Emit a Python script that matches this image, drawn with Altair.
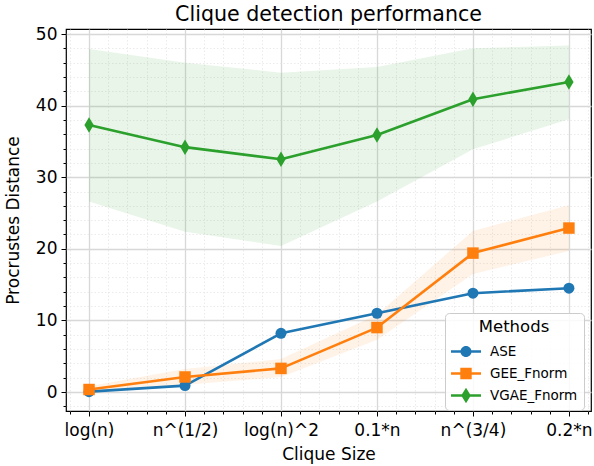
import altair as alt
import pandas as pd

# Clique size regimes on the x axis and the three embedding methods
categories = ["log(n)", "n^(1/2)", "log(n)^2", "0.1*n", "n^(3/4)", "0.2*n"]
methods = ["ASE", "GEE_Fnorm", "VGAE_Fnorm"]
colors = ["#1f77b4", "#ff7f0e", "#2ca02c"]

# Mean Procrustes distance per method
ase_mean = [0.05, 0.9, 8.2, 11.0, 13.8, 14.5]
gee_mean = [0.35, 2.1, 3.3, 9.0, 19.4, 22.9]
vgae_mean = [37.3, 34.2, 32.5, 35.9, 40.9, 43.3]

# Spread bands (lower / upper) around the means
gee_lo = [-0.1, 1.0, 2.1, 7.3, 16.5, 19.7]
gee_hi = [0.8, 3.2, 4.6, 10.8, 22.5, 26.1]
vgae_lo = [26.6, 22.4, 20.4, 26.6, 33.9, 38.1]
vgae_hi = [47.9, 46.0, 44.6, 45.4, 48.0, 48.4]

means = {"ASE": ase_mean, "GEE_Fnorm": gee_mean, "VGAE_Fnorm": vgae_mean}
bands = {"GEE_Fnorm": (gee_lo, gee_hi), "VGAE_Fnorm": (vgae_lo, vgae_hi)}

line_rows = []
for m in methods:
    for i, (c, v) in enumerate(zip(categories, means[m])):
        line_rows.append({"pos": i, "category": c, "method": m, "value": v})
lines_df = pd.DataFrame(line_rows)

band_rows = []
for m, (lo, hi) in bands.items():
    for i, c in enumerate(categories):
        band_rows.append({"pos": i, "category": c, "method": m, "lo": lo[i], "hi": hi[i]})
bands_df = pd.DataFrame(band_rows)

# Marker shapes (unit box paths) and legend handles (line through marker)
marker_paths = {
    "ASE": "circle",
    "GEE_Fnorm": "square",
    "VGAE_Fnorm": "M0,-1L0.6,0L0,1L-0.6,0Z",
}
marker_sizes = {"ASE": 121, "GEE_Fnorm": 132, "VGAE_Fnorm": 240}
bar = "M-1,-0.087L1,-0.087L1,0.087L-1,0.087Z"
legend_paths = [
    bar + "M-0.37,0A0.37,0.37 0 1,1 0.37,0A0.37,0.37 0 1,1 -0.37,0Z",
    bar + "M-0.38,-0.38L0.38,-0.38L0.38,0.38L-0.38,0.38Z",
    bar + "M0,-0.52L0.32,0L0,0.52L-0.32,0Z",
]

# Axis ticks: majors at each category / every 10, minors in between
x_ticks = [round(-0.2 + 0.2 * k, 1) for k in range(28)]
y_ticks = list(range(-2, 51, 2))
x_major = "abs(datum.value - round(datum.value)) < 0.01"
y_major = "datum.value % 10 === 0"
cat_array = "[" + ",".join("'" + c + "'" for c in categories) + "]"

x_axis = alt.Axis(
    title="Clique Size",
    values=x_ticks,
    labelExpr=f"{x_major} ? {cat_array}[round(datum.value)] : ''",
    labelOverlap=False,
    labelFlush=False,
    domain=False,
    tickColor="black",
    tickWidth=1,
    tickSize={"condition": {"test": x_major, "value": 5}, "value": 3},
    gridColor={"condition": {"test": x_major, "value": "#d8d8d8"}, "value": "#e6e6e6"},
    gridDash={"condition": {"test": x_major, "value": []}, "value": [1.5, 2]},
    gridWidth={"condition": {"test": x_major, "value": 1.3}, "value": 0.8},
    labelFontSize=17,
    labelColor="black",
    labelPadding=6,
    titleFontSize=17,
    titleFontWeight="normal",
    titleColor="black",
    titlePadding=8,
)
y_axis = alt.Axis(
    title="Procrustes Distance",
    values=y_ticks,
    labelExpr=f"{y_major} ? datum.label : ''",
    labelOverlap=False,
    labelFlush=False,
    domain=False,
    tickColor="black",
    tickWidth=1,
    tickSize={"condition": {"test": y_major, "value": 5}, "value": 3},
    gridColor={"condition": {"test": y_major, "value": "#d8d8d8"}, "value": "#e6e6e6"},
    gridDash={"condition": {"test": y_major, "value": []}, "value": [1.5, 2]},
    gridWidth={"condition": {"test": y_major, "value": 1.3}, "value": 0.8},
    labelFontSize=17,
    labelColor="black",
    labelPadding=4,
    titleFontSize=17,
    titleFontWeight="normal",
    titleColor="black",
    titlePadding=13,
)

x_scale = alt.Scale(domain=[-0.24, 5.23], nice=False, zero=False)
y_scale = alt.Scale(domain=[-2.65, 50.7], nice=False, zero=False)

x_enc = alt.X("pos:Q", scale=x_scale, axis=x_axis)

layers = []
# shaded spread bands
for m in bands:
    c = colors[methods.index(m)]
    layers.append(
        alt.Chart(bands_df[bands_df.method == m])
        .mark_area(color=c, opacity=0.1)
        .encode(
            x=x_enc,
            y=alt.Y("lo:Q", scale=y_scale, axis=y_axis, title="Procrustes Distance"),
            y2="hi:Q",
        )
    )

# mean lines with markers, drawn series by series
for m, c in zip(methods, colors):
    sub = lines_df[lines_df.method == m]
    y_enc = alt.Y("value:Q", scale=y_scale, axis=y_axis, title="Procrustes Distance")
    layers.append(
        alt.Chart(sub).mark_line(color=c, strokeWidth=2.6, strokeJoin="round").encode(x=x_enc, y=y_enc)
    )
    layers.append(
        alt.Chart(sub)
        .mark_point(filled=True, opacity=1, color=c, shape=marker_paths[m], size=marker_sizes[m])
        .encode(x=x_enc, y=y_enc)
    )

# legend carrier: no rows drawn, only the legend from the fixed scales
leg = alt.Legend(
    title="Methods",
    orient="none",
    legendX=379,
    legendY=284,
    padding=6,
    fillColor="rgba(255,255,255,0.85)",
    strokeColor="#cccccc",
    cornerRadius=4,
    titleFontSize=16.5,
    titleFontWeight="normal",
    titleColor="black",
    titleAnchor="middle",
    titlePadding=1,
    labelFontSize=13.5,
    labelColor="black",
    labelOffset=9,
    symbolSize=900,
    symbolStrokeWidth=0,
    symbolOpacity=1,
    rowPadding=-1.5,
)
layers.append(
    alt.Chart(lines_df)
    .transform_filter("false")
    .mark_point(filled=True, opacity=1)
    .encode(
        color=alt.Color("method:N", scale=alt.Scale(domain=methods, range=colors), legend=leg),
        shape=alt.Shape("method:N", scale=alt.Scale(domain=methods, range=legend_paths), legend=leg),
    )
)

chart = (
    alt.layer(*layers)
    .properties(
        width=525,
        height=382,
        padding={"left": 66, "top": 29, "right": 3, "bottom": 55},
        autosize=alt.AutoSizeParams(type="none"),
        title=alt.TitleParams(
            "Clique detection performance",
            fontSize=20.6,
            fontWeight="normal",
            color="black",
            anchor="middle",
            offset=-1,
        ),
    )
    .configure(font="DejaVu Sans")
    .configure_view(stroke="black", strokeWidth=1.2)
)

chart.save("out.html", embed_options={"renderer": "svg", "actions": False})
